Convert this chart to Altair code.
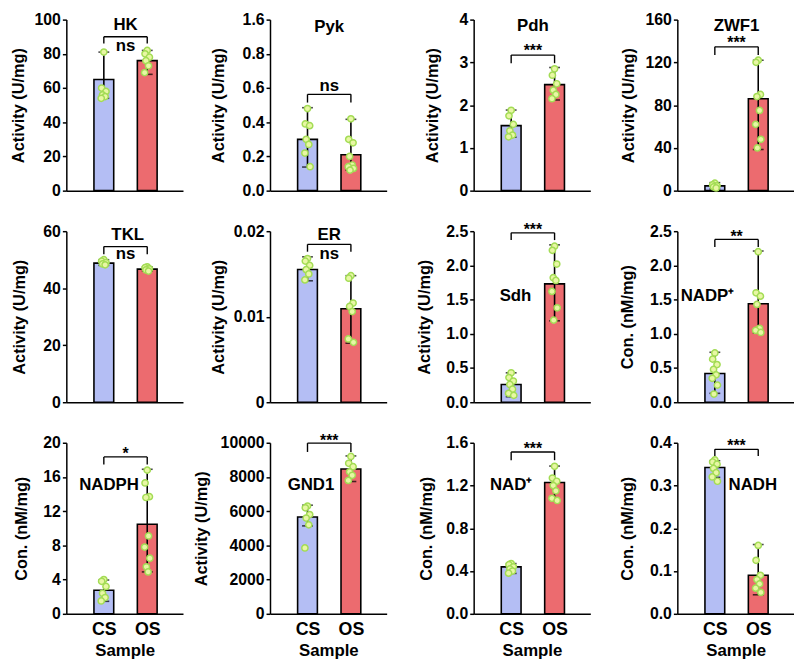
import altair as alt
import pandas as pd

FONT = "Liberation Sans"

GROUPS = ["CS", "OS"]
BAR_COLORS = ["#b4bef4", "#ec6b6f"]

PANELS = ["HK", "Pyk", "Pdh", "ZWF1", "TKL", "ER", "Sdh", "NADP\u207a",
          "NADPH", "GND1", "NAD\u207a", "NADH"]
YTITLES = ["Activity (U/mg)", "Activity (U/mg)", "Activity (U/mg)", "Activity (U/mg)",
           "Activity (U/mg)", "Activity (U/mg)", "Activity (U/mg)", "Con. (nM/mg)",
           "Con. (nM/mg)", "Activity (U/mg)", "Con. (nM/mg)", "Con. (nM/mg)"]
YMAX = [100, 1.0, 4, 160, 60, 0.02, 2.5, 2.5, 20, 10000, 1.6, 0.4]
YTICKS = [
    [0, 20, 40, 60, 80, 100],
    [0, 0.2, 0.4, 0.6, 0.8, 1.0],
    [0, 1, 2, 3, 4],
    [0, 40, 80, 120, 160],
    [0, 20, 40, 60],
    [0, 0.01, 0.02],
    [0, 0.5, 1.0, 1.5, 2.0, 2.5],
    [0, 0.5, 1.0, 1.5, 2.0, 2.5],
    [0, 4, 8, 12, 16, 20],
    [0, 2000, 4000, 6000, 8000, 10000],
    [0, 0.4, 0.8, 1.2, 1.6],
    [0, 0.1, 0.2, 0.3, 0.4],
]
YFMT = ["d", ".1f", "d", "d", "d", "~g", ".1f", ".1f", "d", "d", ".1f", ".1f"]
# Pyk axis: top tick is labelled "1.6" in the original figure
PYK_TOP_LABEL = "1.6"

CS_MEAN = [65, 0.30, 1.52, 4.5, 48.8, 0.01553, 0.26, 0.42, 2.76, 5660, 0.439, 0.342]
OS_MEAN = [76, 0.21, 2.48, 86, 46.7, 0.01094, 1.73, 1.44, 10.48, 8465, 1.228, 0.090]
CS_ERR = [(54, 81), (0.138, 0.485), (1.25, 1.885), (1.5, 7.5), (48, 50),
          (0.0142, 0.0170), (0.08, 0.43), (0.13, 0.73), (1.46, 3.95),
          (5140, 6350), (0.378, 0.47), (0.319, 0.358)]
OS_ERR = [(68, 82), (0.12, 0.417), (2.12, 2.88), (38.5, 122), (46, 47.5),
          (0.0069, 0.0148), (1.19, 2.30), (1.01, 2.21), (4.9, 16.9),
          (7735, 9230), (1.063, 1.382), (0.0445, 0.162)]
CS_PTS = [
    [81, 60, 58, 56, 55, 54],
    [0.48, 0.39, 0.38, 0.30, 0.27, 0.22, 0.14],
    [1.88, 1.75, 1.55, 1.40, 1.30, 1.26],
    [7, 5.5, 4.5, 3.5, 2.5],
    [50, 49.5, 49, 48.5, 48.2],
    [0.0168, 0.0165, 0.0160, 0.0155, 0.0150, 0.0143],
    [0.43, 0.36, 0.31, 0.26, 0.19, 0.13, 0.10],
    [0.72, 0.63, 0.55, 0.48, 0.40, 0.35, 0.25, 0.12],
    [4.0, 3.8, 3.2, 2.4, 1.9, 1.5],
    [6300, 6200, 5800, 5600, 5200, 3850],
    [0.47, 0.46, 0.44, 0.42, 0.40, 0.38],
    [0.36, 0.355, 0.35, 0.34, 0.33, 0.32, 0.31],
]
OS_PTS = [
    [82, 80, 78, 76, 73, 69],
    [0.42, 0.30, 0.28, 0.20, 0.15, 0.14, 0.13, 0.12],
    [2.85, 2.70, 2.50, 2.35, 2.25, 2.15],
    [122, 120, 90, 88, 75, 62, 48, 40],
    [47.5, 47.2, 46.8, 46.4, 46.0],
    [0.0148, 0.0145, 0.0116, 0.0112, 0.0106, 0.0074, 0.0070],
    [2.28, 2.22, 2.02, 1.82, 1.78, 1.62, 1.38, 1.20],
    [2.20, 1.60, 1.55, 1.43, 1.08, 1.05, 1.02],
    [16.8, 15.3, 13.7, 13.6, 9.1, 7.8, 6.5, 5.5, 4.9],
    [9200, 8800, 8600, 8300, 8100, 7800],
    [1.38, 1.27, 1.24, 1.20, 1.15, 1.08, 1.06],
    [0.16, 0.125, 0.09, 0.08, 0.07, 0.06, 0.05],
]
SIG = ["ns", "ns", "***", "***", "ns", "ns", "***", "**", "*", "***", "***", "***"]
BRACKET_Y = [90, 0.563, 3.17, 134.5, 54.6, 0.01846, 2.476, 2.38, 18.35, 9980, 1.514, 0.3846]
BRACKET_LOW = [86, 0.515, 2.98, 127, 51.9, 0.0176, 2.37, 2.27, 17.47, 9463, 1.437, 0.369]
SIG_Y = [81.4, 0.583, 3.15, 133.7, 50.3, 0.01677, 2.44, 2.343, 18.14, 9837, 1.497, 0.3804]
TITLE_X = [1.5, 1.5, 1.5, 1.5, 1.55, 1.5, 1.1, 0.83, 1.12, 1.08, 1.0, 1.875]
TITLE_Y = [97.1, 0.956, 3.846, 153.8, 58.6, 0.01954, 1.551, 1.551, 15.09, 7543, 1.207, 0.3017]
TITLE_PAD = [8, 16, 19, 9, 16, 7, 13, 14, 13, 11, 11, 14]

JITTER = [0, -0.05, 0.05, -0.03, 0.03, -0.06, 0.06, -0.02, 0.02]
XDOMAIN = [0.25, 2.71]


def panel(i):
    bottom = i >= 8
    xaxis = alt.Axis(
        values=[1, 2],
        labelExpr=f"datum.value == 1 ? '{GROUPS[0]}' : '{GROUPS[1]}'",
        labels=bottom, ticks=False, tickSize=0, grid=False,
        domainColor="black", domainWidth=1.5,
        labelFont=FONT, labelFontSize=18, labelFontWeight="bold", labelColor="black",
        labelPadding=7, labelFlush=False,
        titleFont=FONT, titleFontSize=17, titleFontWeight="bold", titleColor="black",
        titlePadding=4,
    )
    yargs = dict(
        values=YTICKS[i], grid=False,
        domainColor="black", domainWidth=1.5,
        tickColor="black", tickWidth=1.5, tickSize=4,
        labelFont=FONT, labelFontSize=16, labelFontWeight="bold", labelColor="black",
        labelPadding=2, labelFlush=False, labelOverlap=False,
        titleFont=FONT, titleFontSize=16.5, titleFontWeight="bold", titleColor="black",
        titlePadding=TITLE_PAD[i],
    )
    if PANELS[i] == "Pyk":
        yargs["labelExpr"] = f"datum.value >= 0.99 ? '{PYK_TOP_LABEL}' : format(datum.value, '.1f')"
    else:
        yargs["format"] = YFMT[i]
    yaxis = alt.Axis(**yargs)
    xscale = alt.Scale(domain=XDOMAIN, nice=False, zero=False)
    yscale = alt.Scale(domain=[0, YMAX[i]], nice=False)
    xtitle = "Sample" if bottom else None

    def X(f):
        return alt.X(f"{f}:Q", scale=xscale, axis=xaxis, title=xtitle)

    def Y(f):
        return alt.Y(f"{f}:Q", scale=yscale, axis=yaxis, title=YTITLES[i])

    bars_df = pd.DataFrame({
        "group": GROUPS,
        "x": [1, 2],
        "mean": [CS_MEAN[i], OS_MEAN[i]],
        "lo": [CS_ERR[i][0], OS_ERR[i][0]],
        "hi": [CS_ERR[i][1], OS_ERR[i][1]],
    })
    caps_df = pd.DataFrame({
        "x": [1, 1, 2, 2],
        "v": [CS_ERR[i][0], CS_ERR[i][1], OS_ERR[i][0], OS_ERR[i][1]],
    })
    rows = []
    for gi, pts in enumerate([CS_PTS[i], OS_PTS[i]]):
        for k, v in enumerate(pts):
            rows.append({"x": gi + 1 + JITTER[k % len(JITTER)], "v": v})
    pts_df = pd.DataFrame(rows)
    br_df = pd.DataFrame({
        "x": [1, 1, 2],
        "x2": [2, 1, 2],
        "y": [BRACKET_Y[i], BRACKET_Y[i], BRACKET_Y[i]],
        "y2": [BRACKET_Y[i], BRACKET_LOW[i], BRACKET_LOW[i]],
    })
    sig_df = pd.DataFrame({"x": [1.5], "y": [SIG_Y[i]], "t": [SIG[i]]})
    title_df = pd.DataFrame({"x": [TITLE_X[i]], "y": [TITLE_Y[i]], "t": [PANELS[i]]})

    bars = alt.Chart(bars_df).mark_bar(size=20, stroke="black", strokeWidth=1.6).encode(
        x=X("x"), y=Y("mean"),
        color=alt.Color("group:N", scale=alt.Scale(domain=GROUPS, range=BAR_COLORS), legend=None),
    )
    err = alt.Chart(bars_df).mark_rule(color="black", strokeWidth=1.6).encode(
        x=X("x"), y=Y("lo"), y2="hi"
    )
    caps = alt.Chart(caps_df).mark_tick(orient="horizontal", size=11, thickness=1.6, color="black").encode(
        x=X("x"), y=Y("v")
    )
    pts = alt.Chart(pts_df).mark_circle(size=40, color="#e8f7a4", stroke="#a3dc55",
                                        strokeWidth=1.5, opacity=1).encode(
        x=X("x"), y=Y("v")
    )
    br = alt.Chart(br_df).mark_rule(color="black", strokeWidth=1.4).encode(
        x=X("x"), x2="x2", y=Y("y"), y2="y2"
    )
    sig = alt.Chart(sig_df).mark_text(font=FONT, fontSize=16 if "*" in SIG[i] else 17,
                                      fontWeight="bold", baseline="alphabetic",
                                      align="center", color="black").encode(
        x=X("x"), y=Y("y"), text="t:N"
    )
    ttl = alt.Chart(title_df).mark_text(font=FONT, fontSize=17, fontWeight="bold",
                                        baseline="middle", align="center", color="black").encode(
        x=X("x"), y=Y("y"), text="t:N"
    )
    return alt.layer(bars, err, caps, pts, br, sig, ttl).properties(width=118, height=173)


chart = alt.concat(
    *[panel(i) for i in range(12)],
    columns=4,
    spacing={"row": 41, "column": 88},
    bounds="flush",
).properties(
    padding={"left": 2, "top": 0, "right": 0, "bottom": 0}
).configure_view(strokeWidth=0)

chart.save("out.html", embed_options={"renderer": "svg", "actions": False})
